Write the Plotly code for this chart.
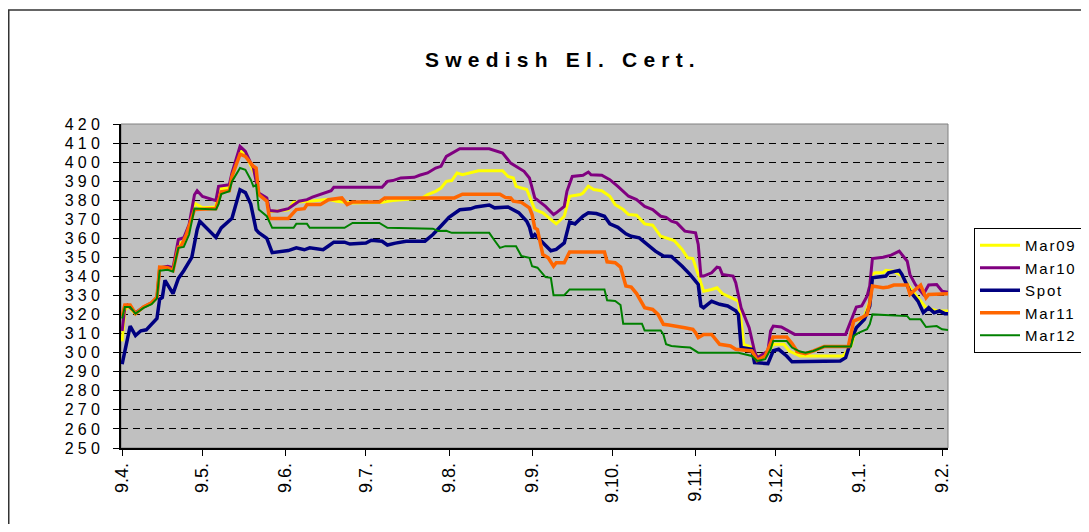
import plotly.graph_objects as go

# ---------------- data ----------------
tick_dates = ["2009-04-09", "2009-05-09", "2009-06-09", "2009-07-09", "2009-08-09", "2009-09-09",
              "2009-10-09", "2009-11-09", "2009-12-09", "2010-01-09", "2010-02-09"]
tick_labels = ["9.4.", "9.5.", "9.6.", "9.7.", "9.8.", "9.9.", "9.10.", "9.11.", "9.12.", "9.1.", "9.2."]
y_ticks = list(range(250, 421, 10))

mar09 = [
    ("2009-04-09", 306), ("2009-04-10", 322), ("2009-04-11", 324.5), ("2009-04-14", 320.5), ("2009-04-17", 324),
    ("2009-04-20", 326), ("2009-04-22", 329), ("2009-04-23", 344.8), ("2009-04-26", 345), ("2009-04-28", 344),
    ("2009-04-30", 357.5), ("2009-05-02", 358), ("2009-05-04", 364.5), ("2009-05-06", 378.5), ("2009-05-09", 376),
    ("2009-05-14", 376.5), ("2009-05-15", 386), ("2009-05-19", 386.5), ("2009-05-20", 393), ("2009-05-23", 406),
    ("2009-05-25", 404.5), ("2009-05-27", 398.5), ("2009-05-29", 392), ("2009-05-30", 383.5), ("2009-06-02", 380),
    ("2009-06-03", 374), ("2009-06-10", 375), ("2009-06-12", 379), ("2009-06-18", 379.5), ("2009-06-25", 380.5),
    ("2009-06-28", 379.5), ("2009-07-04", 378.6), ("2009-07-15", 379), ("2009-07-19", 379.8), ("2009-07-30", 381.2),
    ("2009-08-01", 383), ("2009-08-04", 384.7), ("2009-08-06", 386.4), ("2009-08-08", 389.9), ("2009-08-10", 390.3),
    ("2009-08-12", 394.3), ("2009-08-14", 393.4), ("2009-08-18", 394.8), ("2009-08-20", 395.5), ("2009-08-29", 395.5),
    ("2009-08-31", 392.5), ("2009-09-02", 391.7), ("2009-09-03", 387.3), ("2009-09-07", 385.6), ("2009-09-08", 382),
    ("2009-09-10", 375.1), ("2009-09-13", 373.4), ("2009-09-17", 368.6), ("2009-09-18", 367.6), ("2009-09-21", 371.6),
    ("2009-09-23", 382.1), ("2009-09-27", 383), ("2009-09-28", 383.8), ("2009-09-30", 387.3), ("2009-10-02", 385.6),
    ("2009-10-05", 385), ("2009-10-08", 382.1), ("2009-10-10", 377.7), ("2009-10-13", 375.1), ("2009-10-15", 372.5),
    ("2009-10-18", 372.1), ("2009-10-21", 367.6), ("2009-10-24", 366.9), ("2009-10-27", 361.1), ("2009-10-30", 360),
    ("2009-11-01", 358.9), ("2009-11-04", 354.2), ("2009-11-06", 349.8), ("2009-11-08", 349.4), ("2009-11-10", 341.1),
    ("2009-11-12", 332.3), ("2009-11-15", 333.2), ("2009-11-17", 334.1), ("2009-11-19", 331), ("2009-11-24", 328),
    ("2009-11-25", 327.1), ("2009-11-26", 316.6), ("2009-11-27", 304.4), ("2009-11-30", 302.7), ("2009-12-02", 298.3),
    ("2009-12-04", 298.3), ("2009-12-06", 300), ("2009-12-08", 304.4), ("2009-12-12", 304.4), ("2009-12-14", 300.9),
    ("2009-12-18", 298.3), ("2010-01-03", 298.3), ("2010-01-06", 303.5), ("2010-01-08", 313.1), ("2010-01-11", 319.2),
    ("2010-01-13", 327.1), ("2010-01-14", 341.1), ("2010-01-15", 342), ("2010-01-18", 342), ("2010-01-19", 343.2),
    ("2010-01-22", 342.8), ("2010-01-25", 340.2), ("2010-01-29", 332.3), ("2010-02-01", 327.1), ("2010-02-03", 323.6),
    ("2010-02-07", 322), ("2010-02-12", 321.9),
]

mar10 = [
    ("2009-04-09", 311.4), ("2009-04-10", 323.6), ("2009-04-11", 325), ("2009-04-14", 321), ("2009-04-17", 324),
    ("2009-04-20", 326.2), ("2009-04-22", 328.8), ("2009-04-23", 344.6), ("2009-04-26", 345.4), ("2009-04-28", 344.6),
    ("2009-04-30", 359.4), ("2009-05-02", 360.3), ("2009-05-04", 367.2), ("2009-05-06", 382.9), ("2009-05-07", 385),
    ("2009-05-09", 382), ("2009-05-14", 379.8), ("2009-05-15", 387.3), ("2009-05-19", 388.2), ("2009-05-20", 394.3),
    ("2009-05-23", 408.3), ("2009-05-25", 405.6), ("2009-05-27", 399.5), ("2009-05-28", 397), ("2009-05-29", 390),
    ("2009-05-30", 383.8), ("2009-06-02", 381.2), ("2009-06-03", 374.6), ("2009-06-06", 374.2), ("2009-06-10", 375.6),
    ("2009-06-14", 379.5), ("2009-06-17", 380.3), ("2009-06-19", 381.6), ("2009-06-22", 383), ("2009-06-26", 385),
    ("2009-06-27", 386.8), ("2009-07-15", 386.8), ("2009-07-17", 389.9), ("2009-07-19", 390.3), ("2009-07-22", 391.7),
    ("2009-07-27", 392), ("2009-07-29", 393.1), ("2009-08-01", 394.3), ("2009-08-04", 396.9), ("2009-08-06", 397.8),
    ("2009-08-08", 403), ("2009-08-11", 405.6), ("2009-08-13", 407), ("2009-08-24", 407), ("2009-08-26", 406),
    ("2009-08-29", 404.8), ("2009-09-01", 399.5), ("2009-09-03", 397.8), ("2009-09-06", 395.2), ("2009-09-08", 391.7),
    ("2009-09-09", 386), ("2009-09-10", 381.2), ("2009-09-14", 376.8), ("2009-09-17", 372.5), ("2009-09-18", 373.4),
    ("2009-09-21", 376.8), ("2009-09-22", 384.7), ("2009-09-24", 392.5), ("2009-09-28", 393.1), ("2009-09-30", 394.8),
    ("2009-10-01", 393.4), ("2009-10-05", 393.1), ("2009-10-08", 390.8), ("2009-10-11", 387.3), ("2009-10-15", 382.1),
    ("2009-10-18", 380.3), ("2009-10-21", 376.8), ("2009-10-24", 375.1), ("2009-10-27", 371.6), ("2009-10-29", 371),
    ("2009-10-31", 369), ("2009-11-02", 368.1), ("2009-11-05", 363.8), ("2009-11-09", 362.9), ("2009-11-10", 356.8),
    ("2009-11-11", 340.2), ("2009-11-12", 340.2), ("2009-11-15", 341.9), ("2009-11-17", 344.9), ("2009-11-18", 344.6),
    ("2009-11-19", 341.1), ("2009-11-23", 340.2), ("2009-11-24", 336.7), ("2009-11-26", 323.6), ("2009-11-29", 313.1),
    ("2009-12-01", 300.9), ("2009-12-02", 297.4), ("2009-12-06", 300.9), ("2009-12-07", 311.4), ("2009-12-08", 314),
    ("2009-12-11", 313.5), ("2009-12-14", 311.4), ("2009-12-16", 309.6), ("2010-01-04", 309.6), ("2010-01-06", 316.6),
    ("2010-01-08", 324), ("2010-01-10", 324.5), ("2010-01-12", 329.7), ("2010-01-13", 335), ("2010-01-14", 349.4),
    ("2010-01-18", 350.1), ("2010-01-21", 351.2), ("2010-01-24", 353.3), ("2010-01-27", 348), ("2010-01-28", 341.1),
    ("2010-01-30", 335.8), ("2010-02-01", 332.3), ("2010-02-02", 330.6), ("2010-02-04", 335.5), ("2010-02-07", 335.8),
    ("2010-02-09", 332.3), ("2010-02-12", 331.5),
]

spot = [
    ("2009-04-09", 294), ("2009-04-12", 314), ("2009-04-14", 309), ("2009-04-16", 311.5), ("2009-04-18", 312),
    ("2009-04-22", 318), ("2009-04-23", 328), ("2009-04-24", 329), ("2009-04-25", 338), ("2009-04-28", 331),
    ("2009-04-30", 339), ("2009-05-02", 343), ("2009-05-05", 350), ("2009-05-07", 364.5), ("2009-05-08", 369),
    ("2009-05-14", 360.5), ("2009-05-16", 365.5), ("2009-05-20", 370.5), ("2009-05-23", 385.5), ("2009-05-25", 384),
    ("2009-05-27", 378), ("2009-05-29", 364.5), ("2009-05-30", 363), ("2009-06-02", 360), ("2009-06-04", 352.5),
    ("2009-06-08", 353.3), ("2009-06-10", 353.6), ("2009-06-13", 355), ("2009-06-16", 354), ("2009-06-18", 355),
    ("2009-06-20", 354.5), ("2009-06-23", 354), ("2009-06-25", 356), ("2009-06-27", 358), ("2009-07-01", 358),
    ("2009-07-03", 357), ("2009-07-09", 357.5), ("2009-07-11", 359), ("2009-07-15", 358.5), ("2009-07-17", 356.5),
    ("2009-07-20", 357.5), ("2009-07-24", 358.5), ("2009-07-31", 358.5), ("2009-08-03", 362), ("2009-08-06", 366.5),
    ("2009-08-09", 371), ("2009-08-13", 375), ("2009-08-17", 375.5), ("2009-08-19", 376.5), ("2009-08-24", 377.5),
    ("2009-08-26", 376), ("2009-08-31", 376.5), ("2009-09-04", 373.5), ("2009-09-07", 369), ("2009-09-08", 366),
    ("2009-09-09", 360.5), ("2009-09-10", 362), ("2009-09-13", 357.5), ("2009-09-16", 353.5), ("2009-09-18", 354.2),
    ("2009-09-21", 357.6), ("2009-09-23", 368.6), ("2009-09-25", 367.6), ("2009-09-28", 371.6), ("2009-09-30", 373.4),
    ("2009-10-03", 373), ("2009-10-06", 371.6), ("2009-10-08", 367.6), ("2009-10-11", 365.8), ("2009-10-14", 362.4),
    ("2009-10-16", 361.1), ("2009-10-19", 360.3), ("2009-10-22", 356.8), ("2009-10-25", 353.3), ("2009-10-28", 350.7),
    ("2009-10-31", 350.5), ("2009-11-04", 345.4), ("2009-11-07", 341), ("2009-11-10", 335.8), ("2009-11-11", 324.5),
    ("2009-11-12", 323.6), ("2009-11-15", 327), ("2009-11-18", 325.4), ("2009-11-21", 324.5), ("2009-11-24", 322),
    ("2009-11-25", 320), ("2009-11-26", 302.7), ("2009-11-30", 301.8), ("2009-12-01", 294.8), ("2009-12-06", 294.3),
    ("2009-12-08", 301), ("2009-12-10", 301.8), ("2009-12-13", 298.3), ("2009-12-15", 295.2), ("2010-01-02", 295.7),
    ("2010-01-04", 297.4), ("2010-01-06", 306.2), ("2010-01-08", 313.1), ("2010-01-11", 317.5), ("2010-01-13", 324.5),
    ("2010-01-14", 339.3), ("2010-01-19", 340.2), ("2010-01-20", 341.9), ("2010-01-24", 343.2), ("2010-01-25", 341.1),
    ("2010-01-28", 332.3), ("2010-01-31", 327.1), ("2010-02-02", 321), ("2010-02-04", 323.6), ("2010-02-06", 321),
    ("2010-02-08", 321.9), ("2010-02-10", 320.5), ("2010-02-12", 320.5),
]

mar11 = [
    ("2009-04-09", 319.2), ("2009-04-10", 325), ("2009-04-12", 325), ("2009-04-14", 320.5), ("2009-04-17", 324),
    ("2009-04-20", 326.2), ("2009-04-22", 329.2), ("2009-04-23", 344.9), ("2009-04-26", 344.6), ("2009-04-28", 343.2),
    ("2009-04-30", 355.4), ("2009-05-01", 355.9), ("2009-05-03", 362), ("2009-05-06", 375.1), ("2009-05-14", 375.6),
    ("2009-05-15", 380.3), ("2009-05-16", 384.4), ("2009-05-19", 385), ("2009-05-20", 392.5), ("2009-05-23", 404.2),
    ("2009-05-25", 403), ("2009-05-28", 397.8), ("2009-05-29", 396.9), ("2009-05-30", 383), ("2009-06-02", 379.5),
    ("2009-06-03", 370.4), ("2009-06-10", 370.4), ("2009-06-13", 375.1), ("2009-06-16", 375.6), ("2009-06-17", 377.7),
    ("2009-06-22", 377.7), ("2009-06-25", 380.3), ("2009-06-30", 381.2), ("2009-07-02", 377.7), ("2009-07-04", 379.1),
    ("2009-07-14", 379.1), ("2009-07-16", 381.2), ("2009-08-11", 381.2), ("2009-08-14", 383.2), ("2009-08-28", 383.2),
    ("2009-08-30", 381.5), ("2009-09-01", 381.2), ("2009-09-02", 379.5), ("2009-09-05", 378.9), ("2009-09-07", 376.8),
    ("2009-09-08", 376), ("2009-09-09", 372.5), ("2009-09-10", 365.5), ("2009-09-11", 364.6), ("2009-09-13", 351.5),
    ("2009-09-15", 349.8), ("2009-09-17", 345.4), ("2009-09-18", 347.2), ("2009-09-21", 347.2), ("2009-09-23", 352.9),
    ("2009-10-06", 352.9), ("2009-10-07", 347.7), ("2009-10-10", 347.2), ("2009-10-12", 344.9), ("2009-10-14", 335),
    ("2009-10-16", 334.4), ("2009-10-18", 331), ("2009-10-21", 323.6), ("2009-10-24", 322.7), ("2009-10-26", 320.1),
    ("2009-10-28", 314.9), ("2009-10-30", 314.5), ("2009-11-02", 314), ("2009-11-05", 313.1), ("2009-11-08", 312.3),
    ("2009-11-09", 310.5), ("2009-11-10", 307.9), ("2009-11-12", 309.6), ("2009-11-15", 309.6), ("2009-11-18", 304.4),
    ("2009-11-22", 303.5), ("2009-11-24", 301.8), ("2009-11-30", 300.9), ("2009-12-02", 296), ("2009-12-05", 298.3),
    ("2009-12-07", 304.4), ("2009-12-08", 308.3), ("2009-12-13", 308.3), ("2009-12-15", 304.8), ("2009-12-17", 300.5),
    ("2009-12-20", 299.5), ("2009-12-23", 301), ("2009-12-27", 303.2), ("2010-01-05", 303.2), ("2010-01-06", 309.6),
    ("2010-01-07", 316.6), ("2010-01-10", 318.4), ("2010-01-12", 320.1), ("2010-01-13", 326.2), ("2010-01-14", 335),
    ("2010-01-18", 334.1), ("2010-01-20", 334.5), ("2010-01-22", 335.5), ("2010-01-27", 335.5), ("2010-01-28", 330.6),
    ("2010-01-30", 333.2), ("2010-02-01", 335.5), ("2010-02-03", 328.8), ("2010-02-04", 330.6), ("2010-02-12", 331),
]

mar12 = [
    ("2009-04-09", 318), ("2009-04-10", 324), ("2009-04-12", 324), ("2009-04-14", 320.5), ("2009-04-17", 323.5),
    ("2009-04-20", 325.5), ("2009-04-22", 328.5), ("2009-04-23", 343), ("2009-04-26", 343.5), ("2009-04-28", 342.5),
    ("2009-04-30", 355), ("2009-05-02", 355.5), ("2009-05-04", 362), ("2009-05-06", 375.6), ("2009-05-14", 375.1),
    ("2009-05-15", 378), ("2009-05-16", 383.3), ("2009-05-19", 384.7), ("2009-05-20", 389.9), ("2009-05-23", 396.9),
    ("2009-05-25", 396), ("2009-05-27", 390.8), ("2009-05-28", 387.3), ("2009-05-29", 388), ("2009-05-30", 375.1),
    ("2009-06-02", 371.6), ("2009-06-04", 365.5), ("2009-06-12", 365.5), ("2009-06-13", 367.6), ("2009-06-17", 367.6),
    ("2009-06-18", 365.5), ("2009-07-01", 365.5), ("2009-07-04", 368.1), ("2009-07-14", 368.1), ("2009-07-17", 365.5),
    ("2009-08-03", 365.1), ("2009-08-05", 363.8), ("2009-08-08", 364), ("2009-08-10", 362.9), ("2009-08-24", 362.9),
    ("2009-08-26", 358.9), ("2009-08-28", 355), ("2009-08-30", 355.9), ("2009-09-03", 355.9), ("2009-09-05", 350.7),
    ("2009-09-08", 349.8), ("2009-09-09", 345.4), ("2009-09-11", 344.6), ("2009-09-14", 339.7), ("2009-09-16", 339.3),
    ("2009-09-17", 330.2), ("2009-09-21", 330.2), ("2009-09-23", 333.2), ("2009-10-06", 333.2), ("2009-10-07", 327.5),
    ("2009-10-10", 327.1), ("2009-10-12", 325), ("2009-10-13", 315.2), ("2009-10-20", 315.2), ("2009-10-21", 311.7),
    ("2009-10-27", 311.7), ("2009-10-28", 309.6), ("2009-10-29", 304.4), ("2009-10-31", 303.5), ("2009-11-04", 303),
    ("2009-11-07", 302.7), ("2009-11-10", 300), ("2009-11-25", 300), ("2009-11-30", 298.3), ("2009-12-02", 295.7),
    ("2009-12-05", 296.6), ("2009-12-07", 301.8), ("2009-12-08", 306.2), ("2009-12-13", 306.2), ("2009-12-15", 302.7),
    ("2009-12-18", 300.6), ("2009-12-20", 300), ("2009-12-23", 300.9), ("2009-12-27", 303.2), ("2010-01-06", 303.2),
    ("2010-01-07", 308.8), ("2010-01-09", 310.5), ("2010-01-12", 312.3), ("2010-01-13", 314.9), ("2010-01-14", 320.1),
    ("2010-01-24", 319.6), ("2010-01-27", 319.2), ("2010-01-28", 317.5), ("2010-02-01", 317.5), ("2010-02-03", 313.5),
    ("2010-02-07", 314), ("2010-02-09", 312.3), ("2010-02-12", 311.7),
]

series_names = ["Mar09", "Mar10", "Spot", "Mar11", "Mar12"]
series_data = [mar09, mar10, spot, mar11, mar12]
series_colors = ["#FFFF00", "#800080", "#000080", "#FF6600", "#008000"]
series_widths = [3, 3, 3.5, 3.5, 2]

FONT = "Liberation Sans, Arial, sans-serif"
# the page adds an 8px body margin; keep the figure inside the 1089x532 window
W, H = 1073, 516
# plot area in figure pixels
PL, PR, PT, PB = 113, 940, 116, 440
PW, PH = PR - PL, PB - PT


def spaced(text, px):
    return f'<span style="letter-spacing:{px}px">{text}</span>'


fig = go.Figure()
for name, data, color, width in zip(series_names, series_data, series_colors, series_widths):
    fig.add_trace(go.Scatter(
        x=[d for d, _ in data], y=[v for _, v in data],
        mode="lines", name=spaced(name, 1.8),
        line=dict(color=color, width=width),
    ))

fig.update_layout(
    width=W, height=H,
    margin=dict(l=PL, r=W - PR, t=PT, b=H - PB, autoexpand=False),
    paper_bgcolor="white", plot_bgcolor="#C0C0C0",
    font=dict(family=FONT, color="black", size=15),
    title=dict(text="<b>" + spaced("Swedish El. Cert.", 6.2) + "</b>",
               x=555 / W, xref="container", xanchor="center",
               y=1 - 52 / H, yref="container", yanchor="middle",
               font=dict(family=FONT, size=21, color="black")),
    showlegend=True,
    legend=dict(x=(966 - PL) / PW, y=(PB - 220) / PH, xanchor="left", yanchor="top",
                bgcolor="white", bordercolor="black", borderwidth=1,
                font=dict(family=FONT, size=15, color="black"),
                tracegroupgap=0, itemwidth=40),
)

fig.update_xaxes(
    type="date", range=["2009-04-08 14:00", "2010-02-11 05:00"],
    tickvals=tick_dates, ticktext=tick_labels, tickangle=-90,
    ticks="outside", ticklen=6, tickcolor="black", tickwidth=1,
    showline=True, linecolor="black", linewidth=1.5, mirror=False,
    showgrid=False, zeroline=False,
    tickfont=dict(family=FONT, size=18, color="black"),
)
fig.update_yaxes(
    range=[250, 420], tickvals=y_ticks, ticktext=[spaced(str(v), 4.2) for v in y_ticks],
    ticks="outside", ticklen=6, tickcolor="black", tickwidth=1,
    showline=True, linecolor="black", linewidth=1.5,
    showgrid=True, gridcolor="black", gridwidth=1, griddash="7px,5px",
    zeroline=False, ticklabelstandoff=6,
    tickfont=dict(family=FONT, size=16, color="black"),
)

# plot area frame and outer chart frame
fig.add_shape(type="rect", xref="paper", yref="paper", x0=0, y0=0, x1=1, y1=1,
              line=dict(color="#808080", width=1), layer="below")
fig.add_shape(type="rect", xref="paper", yref="paper",
              x0=(0.75 - PL) / PW, y0=(PB - 560) / PH, x1=(1110 - PL) / PW, y1=1 + (PT - 2) / PH,
              line=dict(color="#333333", width=1.5), layer="above")

fig.write_html("out.html")
